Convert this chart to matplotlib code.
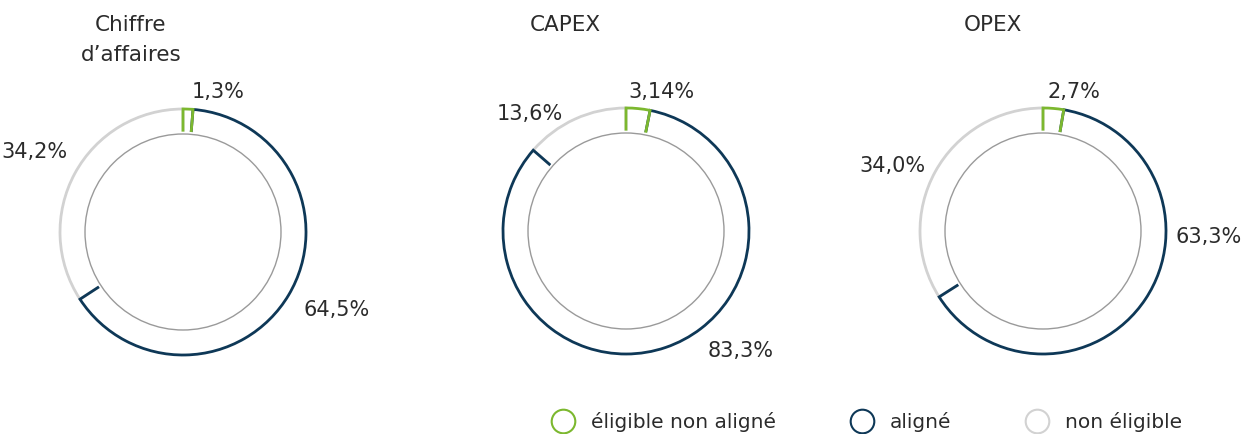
import matplotlib.pyplot as plt
from matplotlib.lines import Line2D
from matplotlib.patches import Circle

plt.rcParams['font.family'] = ['DejaVu Sans']

# Share of each indicator: eligible non aligned / aligned / non eligible
titles = ['Chiffre\nd\u2019affaires', 'CAPEX', 'OPEX']
eligible_non_aligne = [1.3, 3.14, 2.7]
aligne = [64.5, 83.3, 63.3]
non_eligible = [34.2, 13.6, 34.0]

legend_labels = ['éligible non aligné', 'aligné', 'non éligible']
colors = ['#7cb82f', '#0e3857', '#d2d2d2']

# layout in pixels (y measured from the top)
W, H = 1253, 435
centers = [(183, 233), (626, 232), (1043, 232)]
r_out, r_in = 123, 98
title_pos = [(131, 15), (565, 15), (993, 15)]
label_pos = [
    [(218, 92), (337, 310), (34, 152)],
    [(661, 92), (741, 351), (530, 114)],
    [(1074, 92), (1209, 237), (892, 166)],
]
legend_x = [(563, 591), (862, 890), (1037, 1065)]
legend_y = 422

text_color = '#2b2b2b'

fig = plt.figure(figsize=(W / 100, H / 100), dpi=100)
ax = fig.add_axes([0, 0, 1, 1])

for i, (cx, cy) in enumerate(centers):
    vals = [eligible_non_aligne[i], aligne[i], non_eligible[i]]
    cy_up = H - cy
    wedges, _ = ax.pie(vals, center=(cx, cy_up), radius=r_out,
                       startangle=90, counterclock=False,
                       wedgeprops=dict(width=r_out - r_in, facecolor='none',
                                       linewidth=2.0))
    for w, c, z in zip(wedges, colors, [4, 3, 2]):
        w.set_edgecolor(c)
        w.set_zorder(z)
    # hide the inner arcs of the wedges and draw the thin inner ring
    ax.add_patch(Circle((cx, cy_up), r_in, facecolor='none', edgecolor='white',
                        linewidth=3.4, zorder=5))
    ax.add_patch(Circle((cx, cy_up), r_in, facecolor='none', edgecolor='#9a9a9a',
                        linewidth=1.0, zorder=6))

    tx, ty = title_pos[i]
    ax.text(tx, H - ty, titles[i], ha='center', va='top', fontsize=15.5,
            color=text_color, linespacing=1.6)
    for (lx, ly), v in zip(label_pos[i], vals):
        ax.text(lx, H - ly, f'{v}%'.replace('.', ','), ha='center', va='center',
                fontsize=15, color=text_color)

for (mx, tx), lab, c in zip(legend_x, legend_labels, colors):
    ax.add_line(Line2D([mx], [H - legend_y], marker='o', markersize=17,
                       markerfacecolor='white', markeredgecolor=c,
                       markeredgewidth=1.5, linestyle='none'))
    ax.text(tx, H - legend_y, lab, ha='left', va='center', fontsize=14.5,
            color=text_color)

ax.set_xlim(0, W)
ax.set_ylim(0, H)
ax.set_aspect('equal')
ax.axis('off')

fig.savefig('out.png', dpi=100)
